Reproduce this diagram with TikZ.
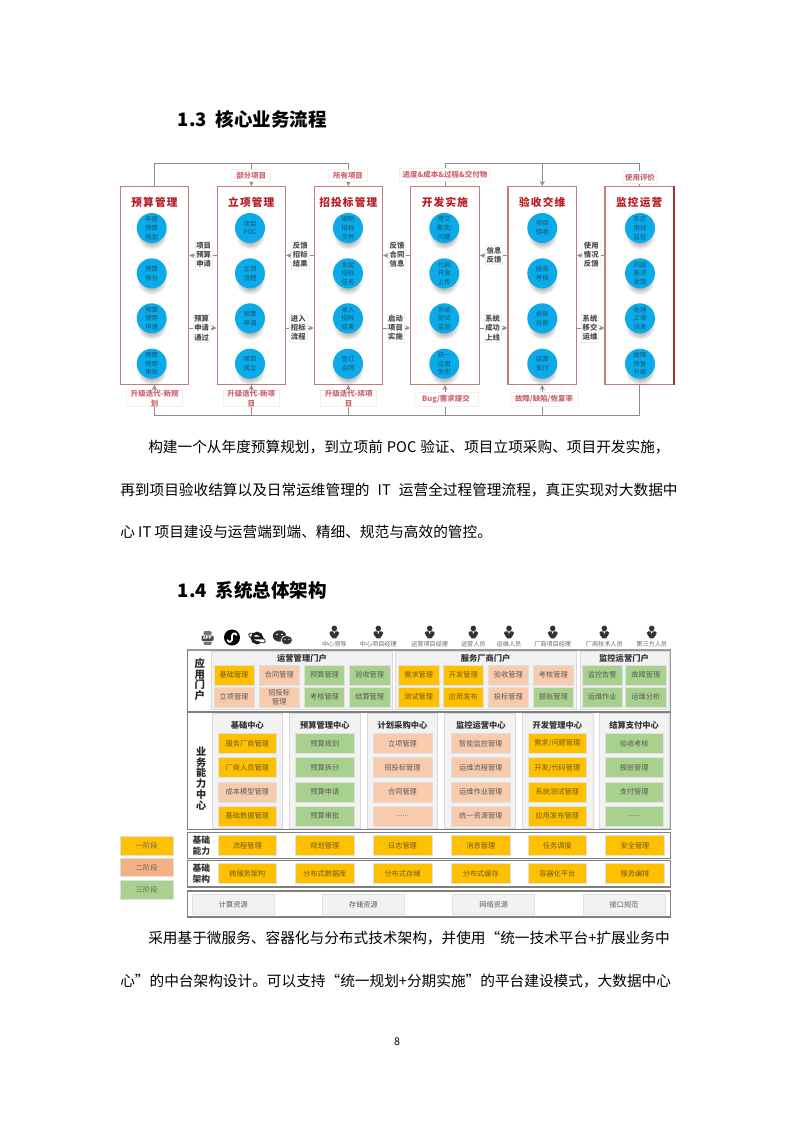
\documentclass[tikz,border=0pt]{standalone}
\usepackage{fontspec}
\setmainfont{Noto Sans CJK SC}
\usetikzlibrary{fadings}
\XeTeXlinebreaklocale "zh"
\XeTeXlinebreakskip=0pt plus 5pt

\newcommand{\fsize}[2]{\fontsize{#1pt}{#2pt}\selectfont}

\definecolor{stageone}{HTML}{FFC000}
\definecolor{stageink}{HTML}{6E5A18}
\definecolor{stagetwo}{HTML}{F8CBAD}
\definecolor{stagetwodark}{HTML}{F4B183}
\definecolor{stagethree}{HTML}{A9D18E}
\definecolor{boxred}{HTML}{C77B7E}
\definecolor{edgered}{HTML}{A83238}
\definecolor{titlered}{HTML}{B81C22}
\definecolor{labelred}{HTML}{CC6670}
\definecolor{bubble}{HTML}{0BAAE8}
\definecolor{bubbleink}{HTML}{0F5573}
\definecolor{flowgray}{HTML}{8C8C8C}
\definecolor{panelgray}{HTML}{F2F2F2}
\definecolor{panelline}{HTML}{D9D9D9}
\definecolor{framegray}{HTML}{7F7F7F}

\tikzfading[name=softdisc, inner color=transparent!0, outer color=transparent!100]

\tikzset{
  heading/.style={anchor=west, inner sep=0pt, font=\bfseries\fsize{13.9}{16}},
  bodyline/.style={anchor=west, inner sep=0pt, font=\fsize{11}{13}},
  column/.style={draw=boxred, line width=.9pt, fill=white, minimum width=51.3pt, minimum height=148.2pt, inner sep=0pt},
  coltitle/.style={inner sep=0pt, text=titlered, font=\bfseries\fsize{8}{10}\addfontfeatures{LetterSpace=11}},
  bubblenode/.style={circle, fill=bubble, minimum size=22.5pt, inner sep=0pt, align=center, text=bubbleink, font=\fsize{4.8}{6.5},
    preaction={fill=black, fill opacity=.65, path fading=softdisc, transform canvas={yshift=-5pt}}},
  sidelabel/.style={fill=white, draw=black!6, inner sep=1pt, align=center, text=black!70, font=\bfseries\fsize{5.5}{6.9}},
  redlabel/.style={fill=white, draw=black!6, inner sep=0pt, align=center, text=labelred, font=\bfseries\fsize{5.6}{7}},
  flowline/.style={draw=flowgray, line width=.75pt},
  cell/.style={draw=black!12, line width=.5pt, inner sep=0pt, align=center, font=\fsize{5.4}{6.9}},
  stageA/.style={cell, fill=stageone, text=stageink},
  stageB/.style={cell, fill=stagetwo, text=black!65},
  stageC/.style={cell, fill=stagethree, text=black!65},
  portalsize/.style={minimum width=30.2pt, minimum height=14.8pt},
  centersize/.style={minimum width=44pt, minimum height=15pt},
  rescell/.style={cell, fill=panelgray, text=black!65, minimum width=61.5pt, minimum height=15pt},
  legendcell/.style={cell, minimum width=40pt, minimum height=13.8pt, text=black!60},
  panel/.style={draw=panelline, fill=panelgray, line width=.75pt},
  frame/.style={draw=framegray, line width=.9pt},
  paneltitle/.style={inner sep=0pt, text=black!80, font=\bfseries\fsize{6.2}{8}},
  sideword/.style={inner sep=0pt, align=center, text=black!85, font=\bfseries\fsize{7.6}{8.1}},
  rowword/.style={inner sep=0pt, align=center, text=black!80, font=\bfseries\fsize{6.6}{8.2}},
  rolename/.style={inner sep=0pt, text=black!60, font=\fsize{4.6}{6}},
  rolefig/.pic={
    \fill[black!80] (0,-3.6) circle (2.8);
    \fill[black!80, rounded corners=1pt] (-4.8,-0.7) -- (4.8,-0.7) -- (4.8,3.2) -- (2.8,3.2) -- (2.8,6.4) -- (-2.8,6.4) -- (-2.8,3.2) -- (-4.8,3.2) -- cycle;
    \fill[white] (-1,-0.7) -- (1,-0.7) -- (0,2) -- cycle;
  }
}

\begin{document}
\begin{tikzpicture}[>=stealth, x=0.75pt, y=-0.75pt]
  \useasboundingbox (0,0) rectangle (794,1123);

  % Koppen
  \node[heading] (headA) at (177.5,119) {1.3\hspace{6.5pt}核心业务流程};
  \node[heading] (headB) at (177.5,590) {1.4\hspace{6.5pt}系统总体架构};

  % Kolommen
  \node[column] (yusuan) at (154.5,285.5) {};
  \node[column] (lixiang) at (251.3,285.5) {};
  \node[column] (zhaobiao) at (348.3,285.5) {};
  \node[column] (kaifa) at (445,285.5) {};
  \node[column] (yanshou) at (542.2,285.5) {};
  \node[column] (jiankong) at (639.2,285.5) {};
  \draw[edgered, line width=.9pt] (jiankong.north east) -- (jiankong.south east);

  \node[coltitle] (yusuanT) at (154.5,202.7) {预算管理};
  \node[coltitle] (lixiangT) at (251.3,202.7) {立项管理};
  \node[coltitle] (zhaobiaoT) at (348.3,202.7) {招投标管理};
  \node[coltitle] (kaifaT) at (445,202.7) {开发实施};
  \node[coltitle] (yanshouT) at (542.2,202.7) {验收交维};
  \node[coltitle] (jiankongT) at (639.2,202.7) {监控运营};

  % Bubbels
  \node[bubblenode] (ysA) at (151.7,228) {年度\\预算\\规划};
  \node[bubblenode] (ysB) at (151.7,273.3) {预算\\拆分};
  \node[bubblenode] (ysC) at (151.7,318.3) {预算\\使用\\申请};
  \node[bubblenode] (ysD) at (151.7,363.7) {预算\\使用\\审批};
  \node[bubblenode] (lxA) at (250,228) {项目\\POC};
  \node[bubblenode] (lxB) at (250,273.3) {立项\\流程};
  \node[bubblenode] (lxC) at (250,318.3) {预算\\申请};
  \node[bubblenode] (lxD) at (250,363.7) {项目\\成立};
  \node[bubblenode] (zbA) at (348,228) {编制\\招标\\文件};
  \node[bubblenode] (zbB) at (348,273.3) {发起\\招标\\任务};
  \node[bubblenode] (zbC) at (348,318.3) {录入\\招标\\结果};
  \node[bubblenode] (zbD) at (348,363.7) {签订\\合同};
  \node[bubblenode] (kfA) at (444.3,228) {提交\\需求/\\问题};
  \node[bubblenode] (kfB) at (444.3,273.3) {代码\\开发\\上传};
  \node[bubblenode] (kfC) at (444.3,318.3) {系统\\测试\\监测};
  \node[bubblenode] (kfD) at (444.3,363.7) {统一\\应用\\发布};
  \node[bubblenode] (ysa) at (542.3,228) {项目\\验收};
  \node[bubblenode] (ysb) at (542.3,273.3) {服务\\考核};
  \node[bubblenode] (ysc) at (542.3,318.3) {报账\\对账};
  \node[bubblenode] (ysd) at (542.3,363.7) {结算\\支付};
  \node[bubblenode] (jkA) at (640,228) {系应\\用动\\监控};
  \node[bubblenode] (jkB) at (640,273.3) {问题\\需求\\发现};
  \node[bubblenode] (jkC) at (640,318.3) {处理\\工单\\派发};
  \node[bubblenode] (jkD) at (640,363.7) {故障\\修复\\升级};

  % Lijnen tussen de kolommen
  \coordinate (upper) at (0,255.5);
  \coordinate (lower) at (0,328);
  \coordinate (topbus) at (0,163.5);
  \coordinate (botbus) at (0,415);
  \draw[flowline, ->] (lixiang.west |- upper) -- (yusuan.east |- upper);
  \draw[flowline, ->] (zhaobiao.west |- upper) -- (lixiang.east |- upper);
  \draw[flowline, ->] (kaifa.west |- upper) -- (zhaobiao.east |- upper);
  \draw[flowline, ->] (yanshou.west |- upper) -- (kaifa.east |- upper);
  \draw[flowline, ->] (jiankong.west |- upper) -- (yanshou.east |- upper);
  \draw[flowline, ->] (yusuan.east |- lower) -- (lixiang.west |- lower);
  \draw[flowline, ->] (lixiang.east |- lower) -- (zhaobiao.west |- lower);
  \draw[flowline, ->] (zhaobiao.east |- lower) -- (kaifa.west |- lower);
  \draw[flowline, ->] (kaifa.east |- lower) -- (yanshou.west |- lower);
  \draw[flowline, ->] (yanshou.east |- lower) -- (jiankong.west |- lower);

  % Bovenlijnen
  \draw[flowline, ->] (yusuan.north) -- (yusuan.north |- topbus) -- (zhaobiao.north |- topbus) -- (zhaobiao.north);
  \draw[flowline, ->] (lixiang.north |- topbus) -- (lixiang.north);
  \draw[flowline] (kaifa.north) -- (kaifa.north |- topbus) -- (jiankong.north |- topbus) -- (jiankong.north);
  \draw[flowline, ->] (yanshou.north |- topbus) -- (yanshou.north);

  % Onderlijnen
  \draw[flowline, ->] (jiankong.south) -- (jiankong.south |- botbus) -- (yusuan.south |- botbus) -- (yusuan.south);
  \draw[flowline, ->] (lixiang.south |- botbus) -- (lixiang.south);
  \draw[flowline, ->] (zhaobiao.south |- botbus) -- (zhaobiao.south);
  \draw[flowline, ->] (kaifa.south |- botbus) -- (kaifa.south);
  \draw[flowline, ->] (yanshou.south |- botbus) -- (yanshou.south);

  % Labels
  \node[sidelabel] (upA) at (203.7,255) {项目\\预算\\申请};
  \node[sidelabel] (upB) at (300.3,255) {反馈\\招标\\结果};
  \node[sidelabel] (upC) at (397,255) {反馈\\合同\\信息};
  \node[sidelabel] (upD) at (494,255) {信息\\反馈};
  \node[sidelabel] (upE) at (591.3,255) {使用\\情况\\反馈};
  \node[sidelabel] (lowA) at (201.7,328) {预算\\申请\\通过};
  \node[sidelabel] (lowB) at (298.3,328) {进入\\招标\\流程};
  \node[sidelabel] (lowC) at (395.5,328) {启动\\项目\\实施};
  \node[sidelabel] (lowD) at (492.7,328) {系统\\成功\\上线};
  \node[sidelabel] (lowE) at (590,328) {系统\\移交\\运维};
  \node[redlabel, minimum width=29.3pt, minimum height=9.5pt] (topA) at (251.2,175.3) {部分项目};
  \node[redlabel, minimum width=29.3pt, minimum height=9.5pt] (topB) at (348,175.3) {所有项目};
  \node[redlabel, minimum width=68pt, minimum height=9.8pt] (topC) at (445,174.5) {进度\&成本\&过程\&交付物};
  \node[redlabel, minimum width=26pt, minimum height=9.5pt] (topD) at (640,177.3) {使用评价};
  \node[redlabel, minimum width=42pt, minimum height=12pt] (botA) at (154.7,398.5) {升级迭代-新规\\划};
  \node[redlabel, minimum width=42pt, minimum height=12pt] (botB) at (251.3,398.5) {升级迭代-新项\\目};
  \node[redlabel, minimum width=42pt, minimum height=12pt] (botC) at (348.7,398.5) {升级迭代-续项\\目};
  \node[redlabel, minimum width=48pt, minimum height=10.5pt] (botD) at (446,399) {Bug/需求提交};
  \node[redlabel, minimum width=51pt, minimum height=10.5pt] (botE) at (544,399) {故障/缺陷/恢复率};

  % Tekst
  \node[bodyline] (paraA) at (148,447) {\makebox[391pt][s]{构建一个从年度预算规划，到立项前 POC 验证、项目立项采购、项目开发实施，}};
  \node[bodyline] (paraB) at (120,490) {\makebox[418pt][s]{再到项目验收结算以及日常运维管理的 IT 运营全过程管理流程，真正实现对大数据中}};
  \node[bodyline] (paraC) at (120,532) {心 IT 项目建设与运营端到端、精细、规范与高效的管控。};
  \node[bodyline] (paraD) at (148,938) {\makebox[396pt][s]{采用基于微服务、容器化与分布式技术架构，并使用“统一技术平台+扩展业务中}};
  \node[bodyline] (paraE) at (120,981) {\makebox[417pt][s]{心”的中台架构设计。可以支持“统一规划+分期实施”的平台建设模式，大数据中心}};
  \node[inner sep=0pt, font=\fsize{8}{10}] (pagenr) at (397,1042) {8};

  % Iconen
  \fill[black!55, rounded corners=.8pt] (203.5,631) rectangle (211.5,635);
  \fill[black!70, rounded corners=.8pt] (201.5,635.5) rectangle (213.5,641);
  \fill[black!55, rounded corners=.8pt] (203.5,641.5) rectangle (211.5,645);
  \node[inner sep=0pt, text=white, font=\bfseries\fsize{3.2}{4}] (appword) at (207.5,638.2) {APP};
  \fill[black] (232,637.5) circle (8);
  \draw[white, line width=1.3pt, line cap=round] (227.5,640) .. controls (229,644) and (233,641) .. (232,637.5) .. controls (231,634) and (235.5,631.5) .. (236.5,635);
  \draw[black!85, line width=.6pt, rotate around={-25:(257,638)}] (257,638) ellipse (9 and 3.2);
  \draw[black!90, line width=1.9pt] (252,638) -- (262,638) arc (0:-300:5);
  \fill[black!80] (279.5,636) ellipse (6.7 and 5.6);
  \filldraw[black!80, draw=white, line width=.5pt] (286.8,640.2) ellipse (5.7 and 4.7);
  \fill[white] (277,634.5) circle (.9) (282,634.5) circle (.9) (285,639.5) circle (.7) (289,639.5) circle (.7);

  % Rollen
  \pic at (334.3,632) {rolefig};
  \pic at (378.3,632) {rolefig};
  \pic at (429.7,632) {rolefig};
  \pic at (473.3,632) {rolefig};
  \pic at (509,632) {rolefig};
  \pic at (552.7,632) {rolefig};
  \pic at (604.3,632) {rolefig};
  \pic at (651.7,632) {rolefig};
  \node[rolename] (roleA) at (334.3,644) {中心领导};
  \node[rolename] (roleB) at (378.3,644) {中心项目经理};
  \node[rolename] (roleC) at (429.7,644) {运营项目经理};
  \node[rolename] (roleD) at (473.3,644) {运营人员};
  \node[rolename] (roleE) at (509,644) {运维人员};
  \node[rolename] (roleF) at (552.7,644) {厂商项目经理};
  \node[rolename] (roleG) at (604.3,644) {厂商技术人员};
  \node[rolename] (roleH) at (651.7,644) {第三方人员};

  % Kaders
  \draw[frame, line width=1.2pt, draw=black!40] (187.3,650) -- (670.7,650);
  \draw[frame, draw=black!40] (670.7,650) -- (670.7,829.5);
  \draw[frame] (187.3,650) -- (187.3,829.5) -- (670.7,829.5);
  \draw[frame, line width=1.6pt] (187.3,711.7) -- (670.7,711.7);
  \draw[frame] (187.3,832.3) rectangle (670.7,858.7);
  \draw[frame] (187.3,860.5) rectangle (670.7,887);
  \draw[frame] (187.3,891) rectangle (670.7,917);

  % Portalen
  \draw[panel] (211.7,651.5) rectangle (392.7,709.7);
  \draw[panel] (395,651.5) rectangle (576.7,709.7);
  \draw[panel] (580,651.5) rectangle (669.5,709.7);
  \node[sideword, font=\bfseries\fsize{7.8}{8}] (portalW) at (199.7,679.5) {应\\用\\门\\户};
  \node[paneltitle] (portalA) at (302,658) {运营管理门户};
  \node[paneltitle] (portalB) at (485.7,658) {服务厂商门户};
  \node[paneltitle] (portalC) at (624,658) {监控运营门户};
  \node[stageA, portalsize] (pa) at (234,675) {基础管理};
  \node[stageB, portalsize] (pb) at (279.3,675) {合同管理};
  \node[stageC, portalsize] (pc) at (324.5,675) {预算管理};
  \node[stageC, portalsize] (pd) at (369.7,675) {验收管理};
  \node[stageB, portalsize] (pe) at (234,697) {立项管理};
  \node[stageB, portalsize] (pf) at (279.3,697) {招投标\\管理};
  \node[stageC, portalsize] (pg) at (324.5,697) {考核管理};
  \node[stageC, portalsize] (ph) at (369.7,697) {结算管理};
  \node[stageA, portalsize] (qa) at (418.7,675) {需求管理};
  \node[stageA, portalsize] (qb) at (463.3,675) {开发管理};
  \node[stageB, portalsize] (qc) at (508.3,675) {验收管理};
  \node[stageB, portalsize] (qd) at (553.3,675) {考核管理};
  \node[stageA, portalsize] (qe) at (418.7,697) {测试管理};
  \node[stageA, portalsize] (qf) at (463.3,697) {应用发布};
  \node[stageB, portalsize] (qg) at (508.3,697) {投标管理};
  \node[stageC, portalsize] (qh) at (553.3,697) {报账管理};
  \node[stageC, portalsize] (ra) at (602.2,675) {监控告警};
  \node[stageC, portalsize] (rb) at (645.8,675) {故障管理};
  \node[stageC, portalsize] (rc) at (602.2,697) {运维作业};
  \node[stageC, portalsize] (rd) at (645.8,697) {运维分析};

  % Centra
  \draw[panel] (212.3,713) rectangle (282,828.5);
  \draw[panel] (289.3,713) rectangle (360.3,828.5);
  \draw[panel] (367.3,713) rectangle (437.7,828.5);
  \draw[panel] (444.7,713) rectangle (515.7,828.5);
  \draw[panel] (522,713) rectangle (593,828.5);
  \draw[panel] (599,713) rectangle (669.5,828.5);
  \node[sideword] (centerW) at (201.3,778.3) {业\\务\\能\\力\\中\\心};
  \node[paneltitle] (centerA) at (247.3,725) {基础中心};
  \node[paneltitle] (centerB) at (324.8,725) {预算管理中心};
  \node[paneltitle] (centerC) at (402.5,725) {计划采购中心};
  \node[paneltitle] (centerD) at (480.8,725) {监控运营中心};
  \node[paneltitle] (centerE) at (557.3,725) {开发管理中心};
  \node[paneltitle] (centerF) at (634.2,725) {结算支付中心};
  \node[stageA, centersize] (ca) at (247.3,743.3) {服务厂商管理};
  \node[stageA, centersize] (cb) at (247.3,767.7) {厂商人员管理};
  \node[stageB, centersize] (cc) at (247.3,791.9) {成本模型管理};
  \node[stageA, centersize] (cd) at (247.3,816.2) {基础数据管理};
  \node[stageC, centersize] (da) at (324.8,743.3) {预算规划};
  \node[stageC, centersize] (db) at (324.8,767.7) {预算拆分};
  \node[stageC, centersize] (dc) at (324.8,791.9) {预算申请};
  \node[stageC, centersize] (dd) at (324.8,816.2) {预算审批};
  \node[stageB, centersize] (ea) at (402.5,743.3) {立项管理};
  \node[stageB, centersize] (eb) at (402.5,767.7) {招投标管理};
  \node[stageB, centersize] (ec) at (402.5,791.9) {合同管理};
  \node[stageB, centersize] (ed) at (402.5,816.2) {......};
  \node[stageB, centersize] (fa) at (480.8,743.3) {智能监控管理};
  \node[stageB, centersize] (fb) at (480.8,767.7) {运维流程管理};
  \node[stageB, centersize] (fc) at (480.8,791.9) {运维作业管理};
  \node[stageB, centersize] (fd) at (480.8,816.2) {统一资源管理};
  \node[stageA, centersize] (ga) at (557.3,743.3) {需求/问题管理};
  \node[stageA, centersize] (gb) at (557.3,767.7) {开发/代码管理};
  \node[stageA, centersize] (gc) at (557.3,791.9) {系统测试管理};
  \node[stageA, centersize] (gd) at (557.3,816.2) {应用发布管理};
  \node[stageC, centersize] (ha) at (634.2,743.3) {验收考核};
  \node[stageC, centersize] (hb) at (634.2,767.7) {报账管理};
  \node[stageC, centersize] (hc) at (634.2,791.9) {支付管理};
  \node[stageC, centersize] (hd) at (634.2,816.2) {......};

  % Basisrijen
  \node[rowword] (abilityW) at (201.3,846) {基础\\能力};
  \node[stageA, centersize] (aa) at (247.3,845.4) {流程管理};
  \node[stageA, centersize] (ab) at (324.8,845.4) {规划管理};
  \node[stageA, centersize] (ac) at (402.5,845.4) {日志管理};
  \node[stageA, centersize] (ad) at (480.8,845.4) {消息管理};
  \node[stageA, centersize] (ae) at (557.3,845.4) {任务调度};
  \node[stageA, centersize] (af) at (635,845.4) {安全管理};
  \node[rowword] (archW) at (201.3,874) {基础\\架构};
  \node[stageA, centersize] (ba) at (247.3,873.5) {微服务架构};
  \node[stageA, centersize] (bb) at (324.8,873.5) {分布式数据库};
  \node[stageA, centersize] (bc) at (402.5,873.5) {分布式存储};
  \node[stageA, centersize] (bd) at (480.8,873.5) {分布式缓存};
  \node[stageA, centersize] (be) at (557.3,873.5) {容器化平台};
  \node[stageA, centersize] (bf) at (635,873.5) {服务编排};
  \node[rescell] (resA) at (233.3,904.3) {计算资源};
  \node[rescell] (resB) at (363.3,904.3) {存储资源};
  \node[rescell] (resC) at (493.7,904.3) {网络资源};
  \node[rescell] (resD) at (624,904.3) {接口规范};

  % Legenda
  \node[legendcell, fill=stageone] (legA) at (146.7,845.7) {一阶段};
  \node[legendcell, fill=stagetwodark] (legB) at (146.7,867.5) {二阶段};
  \node[legendcell, fill=stagethree] (legC) at (146.7,889.7) {三阶段};

\end{tikzpicture}
\end{document}
